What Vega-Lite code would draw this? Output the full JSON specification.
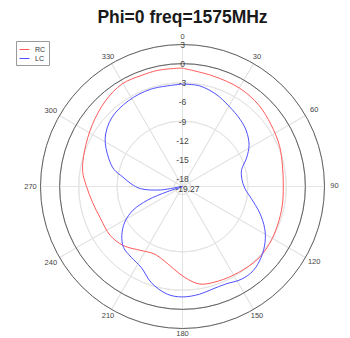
{
  "$schema": "https://vega.github.io/schema/vega-lite/v6.json",
  "width": 284,
  "height": 284,
  "autosize": {"type": "none"},
  "padding": {"left": 40.5, "top": 44.5, "right": 25.5, "bottom": 9.5},
  "background": "white",
  "config": {"view": {"stroke": null}, "font": "Liberation Sans"},
  "title": {"text": "Phi=0 freq=1575MHz", "fontSize": 17.5, "fontWeight": "bold", "font": "Liberation Sans", "color": "#1a1a1a", "anchor": "middle", "frame": "group", "baseline": "alphabetic", "offset": 18.5, "dy": 26},
  "datasets": {
    "rings": [{"d": 0}, {"d": -3}, {"d": -6}, {"d": -9}, {"d": -12}, {"d": -15}, {"d": -18}],
    "outer": [{"d": 3}],
    "spokes": [{"s": 1}, {"s": 1}, {"s": 1}, {"s": 1}, {"s": 1}, {"s": 1}, {"s": 1}, {"s": 1}, {"s": 1}, {"s": 1}, {"s": 1}, {"s": 1}],
    "ringlabels": [{"t": "3", "d": 3}, {"t": "0", "d": 0}, {"t": "-3", "d": -3}, {"t": "-6", "d": -6}, {"t": "-9", "d": -9}, {"t": "-12", "d": -12}, {"t": "-15", "d": -15}, {"t": "-18", "d": -18}],
    "angletop": [{"a": 0}],
    "anglebottom": [{"a": 180}],
    "anglediag": [{"a": 30}, {"a": 150}, {"a": 210}, {"a": 330}],
    "angleside": [{"a": 60}, {"a": 90}, {"a": 120}, {"a": 240}, {"a": 270}, {"a": 300}],
    "curves": [
      {"s": "RC", "a": 0, "d": -0.72}, {"s": "RC", "a": 15, "d": -1.28}, {"s": "RC", "a": 30, "d": -1.43}, {"s": "RC", "a": 43, "d": -1.77},
      {"s": "RC", "a": 55, "d": -2.33}, {"s": "RC", "a": 67, "d": -2.76}, {"s": "RC", "a": 78, "d": -3.25}, {"s": "RC", "a": 90, "d": -3.46},
      {"s": "RC", "a": 101, "d": -3.34}, {"s": "RC", "a": 112, "d": -3.18}, {"s": "RC", "a": 123, "d": -2.95}, {"s": "RC", "a": 134, "d": -2.87},
      {"s": "RC", "a": 147, "d": -3.18}, {"s": "RC", "a": 159, "d": -3.41}, {"s": "RC", "a": 170, "d": -3.73}, {"s": "RC", "a": 178.5, "d": -5.0},
      {"s": "RC", "a": 186, "d": -6.26}, {"s": "RC", "a": 194, "d": -7.28}, {"s": "RC", "a": 203, "d": -7.8}, {"s": "RC", "a": 213, "d": -7.31},
      {"s": "RC", "a": 225, "d": -6.16}, {"s": "RC", "a": 236, "d": -5.58}, {"s": "RC", "a": 249, "d": -5.46}, {"s": "RC", "a": 260, "d": -4.94},
      {"s": "RC", "a": 270, "d": -4.22}, {"s": "RC", "a": 278.5, "d": -3.44}, {"s": "RC", "a": 290, "d": -2.92}, {"s": "RC", "a": 304.5, "d": -2.12},
      {"s": "RC", "a": 318, "d": -1.21}, {"s": "RC", "a": 329.5, "d": -0.6}, {"s": "RC", "a": 339.5, "d": -0.7}, {"s": "RC", "a": 348, "d": -0.65},
      {"s": "RC", "a": 359, "d": -0.7}, {"s": "RC", "a": 360, "d": -0.72},
      {"s": "LC", "a": 0, "d": -3.21}, {"s": "LC", "a": 9.6, "d": -3.26}, {"s": "LC", "a": 20, "d": -3.88}, {"s": "LC", "a": 30, "d": -4.71},
      {"s": "LC", "a": 40.7, "d": -5.4}, {"s": "LC", "a": 49, "d": -6.0}, {"s": "LC", "a": 58, "d": -6.96}, {"s": "LC", "a": 66, "d": -8.27},
      {"s": "LC", "a": 74, "d": -9.62}, {"s": "LC", "a": 82, "d": -9.89}, {"s": "LC", "a": 92, "d": -9.46}, {"s": "LC", "a": 100, "d": -8.3},
      {"s": "LC", "a": 109, "d": -6.45}, {"s": "LC", "a": 117, "d": -4.81}, {"s": "LC", "a": 124, "d": -3.65}, {"s": "LC", "a": 132, "d": -2.67},
      {"s": "LC", "a": 140, "d": -2.03}, {"s": "LC", "a": 147.4, "d": -2.03}, {"s": "LC", "a": 156, "d": -2.54}, {"s": "LC", "a": 164, "d": -2.5},
      {"s": "LC", "a": 171, "d": -2.17}, {"s": "LC", "a": 180, "d": -1.95}, {"s": "LC", "a": 188, "d": -2.21}, {"s": "LC", "a": 198, "d": -3.42},
      {"s": "LC", "a": 207, "d": -5.02}, {"s": "LC", "a": 216, "d": -5.57}, {"s": "LC", "a": 224, "d": -5.97}, {"s": "LC", "a": 231, "d": -7.02},
      {"s": "LC", "a": 238.4, "d": -8.65}, {"s": "LC", "a": 244.4, "d": -10.67}, {"s": "LC", "a": 248.7, "d": -13.4}, {"s": "LC", "a": 251.2, "d": -16.72},
      {"s": "LC", "a": 255.5, "d": -19.27}, {"s": "LC", "a": 261, "d": -15.8}, {"s": "LC", "a": 267, "d": -12.7}, {"s": "LC", "a": 273, "d": -11.2},
      {"s": "LC", "a": 279, "d": -9.8}, {"s": "LC", "a": 284, "d": -8.2}, {"s": "LC", "a": 291, "d": -6.86}, {"s": "LC", "a": 302, "d": -4.97},
      {"s": "LC", "a": 314, "d": -3.81}, {"s": "LC", "a": 327.6, "d": -3.38}, {"s": "LC", "a": 342, "d": -3.22}, {"s": "LC", "a": 360, "d": -3.21}
    ]
  },
  "layer": [
    {
      "data": {"name": "rings"},
      "mark": {"type": "arc", "theta": 0, "theta2": 6.2832, "filled": false, "stroke": "#e4e4e4", "strokeWidth": 1},
      "encoding": {"radius": {"field": "d", "type": "quantitative", "scale": {"type": "linear", "domain": [-19.27, 3], "range": [0, 142], "zero": false, "nice": false}}}
    },
    {
      "data": {"name": "spokes"},
      "mark": {"type": "arc", "radius": 142, "filled": false, "stroke": "#e4e4e4", "strokeWidth": 1},
      "encoding": {"theta": {"field": "s", "type": "quantitative", "stack": true}}
    },
    {
      "data": {"name": "outer"},
      "mark": {"type": "arc", "theta": 0, "theta2": 6.2832, "filled": false, "stroke": "#616161", "strokeWidth": 1},
      "encoding": {"radius": {"field": "d", "type": "quantitative", "scale": {"type": "linear", "domain": [-19.27, 3], "range": [0, 142], "zero": false, "nice": false}}}
    },
    {
      "data": {"name": "curves"},
      "transform": [
        {"calculate": "(datum.d + 19.27) * sin(datum.a * PI / 180)", "as": "x"},
        {"calculate": "(datum.d + 19.27) * cos(datum.a * PI / 180)", "as": "y"}
      ],
      "mark": {"type": "line", "strokeWidth": 1, "interpolate": "catmull-rom"},
      "encoding": {
        "x": {"field": "x", "type": "quantitative", "scale": {"domain": [-22.27, 22.27], "nice": false, "zero": false}, "axis": null},
        "y": {"field": "y", "type": "quantitative", "scale": {"domain": [-22.27, 22.27], "nice": false, "zero": false}, "axis": null},
        "order": {"field": "a", "type": "quantitative"},
        "color": {
          "field": "s", "type": "nominal",
          "scale": {"domain": ["RC", "LC"], "range": ["#ff5a5a", "#5050ff"]},
          "legend": {"orient": "none", "legendX": -24.5, "legendY": -3.5, "title": null, "symbolType": "stroke", "symbolSize": 100, "symbolStrokeWidth": 1, "labelFontSize": 7, "labelColor": "#333", "fillColor": "white", "strokeColor": "#999", "padding": 3, "rowPadding": 0, "labelOffset": 5, "labelExpr": "datum.label + '    '"}
        }
      }
    },
    {
      "data": {"name": "ringlabels"},
      "mark": {"type": "text", "theta": 0, "fontSize": 8.5, "color": "#444", "align": "center", "baseline": "middle", "dy": 0.5},
      "encoding": {
        "text": {"field": "t"},
        "radius": {"field": "d", "type": "quantitative", "scale": {"type": "linear", "domain": [-19.27, 3], "range": [0, 142], "zero": false, "nice": false}}
      }
    },
    {
      "data": {"values": [{"t": "-19.27"}]},
      "mark": {"type": "text", "fontSize": 8.5, "color": "#444", "align": "center", "baseline": "middle", "dx": 5, "dy": 2.5},
      "encoding": {"text": {"field": "t"}}
    },
    {
      "data": {"name": "angletop"},
      "mark": {"type": "text", "radius": 150, "fontSize": 7.5, "color": "#444", "align": "center", "baseline": "middle"},
      "encoding": {
        "text": {"field": "a"},
        "theta": {"field": "a", "type": "quantitative", "stack": false, "scale": {"domain": [0, 360], "range": [0, 6.28318]}}
      }
    },
    {
      "data": {"name": "anglebottom"},
      "mark": {"type": "text", "radius": 147, "fontSize": 7.5, "color": "#444", "align": "center", "baseline": "middle"},
      "encoding": {
        "text": {"field": "a"},
        "theta": {"field": "a", "type": "quantitative", "stack": false, "scale": {"domain": [0, 360], "range": [0, 6.28318]}}
      }
    },
    {
      "data": {"name": "anglediag"},
      "mark": {"type": "text", "radius": 149, "fontSize": 7.5, "color": "#444", "align": "center", "baseline": "middle"},
      "encoding": {
        "text": {"field": "a"},
        "theta": {"field": "a", "type": "quantitative", "stack": false, "scale": {"domain": [0, 360], "range": [0, 6.28318]}}
      }
    },
    {
      "data": {"name": "angleside"},
      "mark": {"type": "text", "radius": 152, "fontSize": 7.5, "color": "#444", "align": "center", "baseline": "middle"},
      "encoding": {
        "text": {"field": "a"},
        "theta": {"field": "a", "type": "quantitative", "stack": false, "scale": {"domain": [0, 360], "range": [0, 6.28318]}}
      }
    }
  ],
  "resolve": {"scale": {"theta": "independent", "radius": "independent"}}
}
